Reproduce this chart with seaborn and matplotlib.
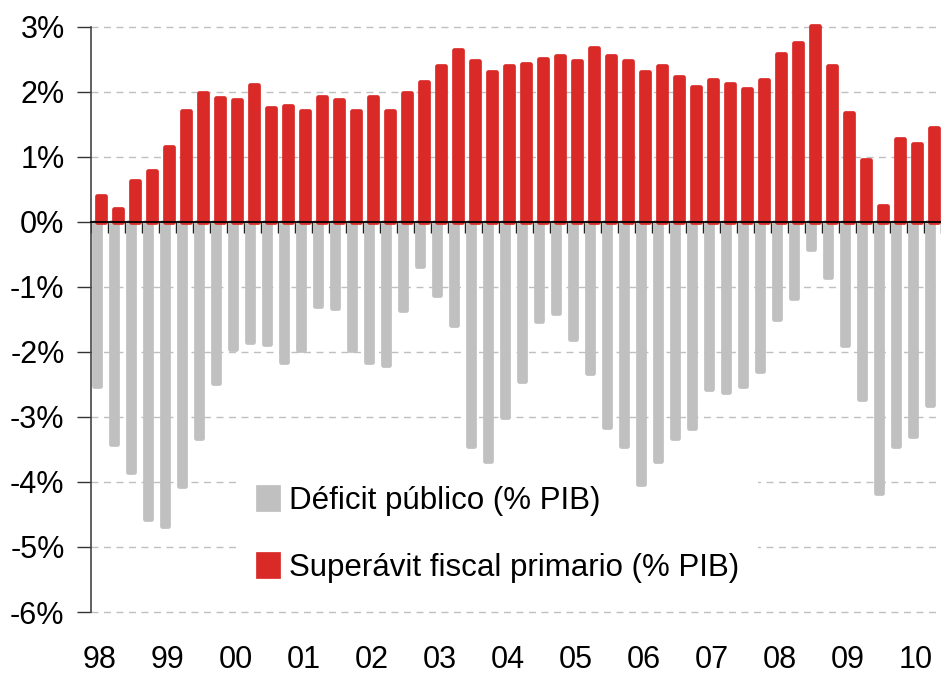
import numpy as np
import matplotlib
matplotlib.use('Agg')
import matplotlib.pyplot as plt
import seaborn as sns

# Quarterly data, 1998Q1 - 2010Q2 (% of GDP)
years = ['98', '99', '00', '01', '02', '03', '04', '05', '06', '07', '08', '09', '10']
deficit = [-2.53, -3.42, -3.84, -4.57, -4.68, -4.06, -3.32, -2.48,
           -1.96, -1.84, -1.88, -2.16, -1.97, -1.29, -1.33, -1.97,
           -2.16, -2.20, -1.36, -0.68, -1.12, -1.59, -3.44, -3.68,
           -3.00, -2.44, -1.53, -1.40, -1.80, -2.32, -3.16, -3.44,
           -4.03, -3.68, -3.32, -3.17, -2.57, -2.61, -2.53, -2.29,
           -1.49, -1.17, -0.41, -0.85, -1.89, -2.72, -4.17, -3.45,
           -3.29, -2.81]
superavit = [0.40, 0.20, 0.63, 0.79, 1.15, 1.71, 1.99, 1.91,
             1.87, 2.11, 1.75, 1.79, 1.71, 1.93, 1.87, 1.71,
             1.93, 1.71, 1.99, 2.15, 2.40, 2.64, 2.47, 2.31,
             2.40, 2.43, 2.51, 2.55, 2.47, 2.67, 2.55, 2.47,
             2.31, 2.40, 2.23, 2.07, 2.19, 2.12, 2.04, 2.19,
             2.59, 2.75, 3.02, 2.40, 1.67, 0.95, 0.24, 1.27,
             1.20, 1.44]
labels = ['Déficit público (% PIB)', 'Superávit fiscal primario (% PIB)']

gray = '#C0C0C0'
red = '#D92A27'

sns.set_theme(style='white')
plt.rcParams['font.family'] = ['Liberation Sans', 'DejaVu Sans']
plt.rcParams['text.color'] = 'black'
plt.rcParams['xtick.color'] = 'black'
plt.rcParams['ytick.color'] = 'black'

fig = plt.figure(figsize=(9.41, 6.77), dpi=100)
ax = fig.add_axes([91 / 941, 1 - 612 / 677, 850 / 941, 585 / 677])

q = np.arange(len(deficit))

# bars with rounded corners (thick edge + round join)
sns.barplot(x=q - 0.15, y=deficit, native_scale=True, width=0.36, color=gray,
            saturation=1, edgecolor=gray, linewidth=3.4, joinstyle='round',
            errorbar=None, label=labels[0], ax=ax, zorder=2)
sns.barplot(x=q + 0.08, y=superavit, native_scale=True, width=0.45, color=red,
            saturation=1, edgecolor=red, linewidth=3.4, joinstyle='round',
            errorbar=None, label=labels[1], ax=ax, zorder=3, clip_on=False)

ax.set_xlim(-0.5, 49.4)
ax.set_ylim(-6, 3)

# y axis
yt = np.arange(-6, 4)
ax.set_yticks(yt)
ax.set_yticklabels([f'{v}%' for v in yt], fontsize=22)
ax.tick_params(axis='y', direction='out', length=10, width=1, color='#333333',
               labelcolor='black', pad=9, left=True)
ax.grid(axis='y', color='#BFBFBF', linestyle=(0, (5, 4)), linewidth=1)
ax.grid(axis='x', visible=False)
for gl in ax.get_ygridlines():
    gl.set_clip_on(False)

# zero line with a tick between every quarter
ax.spines['bottom'].set_position(('data', 0))
ax.spines['bottom'].set_color('black')
ax.spines['bottom'].set_linewidth(1.3)
ax.spines['bottom'].set_zorder(5)
ax.spines['left'].set_color('#444444')
ax.spines['left'].set_linewidth(1.2)
ax.spines['top'].set_visible(False)
ax.spines['right'].set_visible(False)
ax.set_xticks(np.arange(-0.5, len(q), 1))
ax.tick_params(axis='x', direction='out', length=8, width=1, color='#222222',
               labelbottom=False, bottom=True)
ax.set_xlabel('')
ax.set_ylabel('')

# year labels along the bottom
sec = ax.secondary_xaxis('bottom')
sec.set_xticks(np.arange(0, len(q), 4))
sec.set_xticklabels(years, fontsize=22)
sec.tick_params(length=0, pad=24, labelcolor='black')
sec.spines['bottom'].set_visible(False)

leg = ax.legend(loc='upper left', bbox_to_anchor=(0.174, 0.247), borderaxespad=0,
                frameon=True, facecolor='white', edgecolor='none', framealpha=1,
                fontsize=22.5, handlelength=0.65, handleheight=0.7, handletextpad=0.35,
                labelspacing=1.18, borderpad=0.6)
for t in leg.get_texts():
    t.set_color('black')
leg.set_zorder(1)

plt.savefig('out.png', dpi=100)
